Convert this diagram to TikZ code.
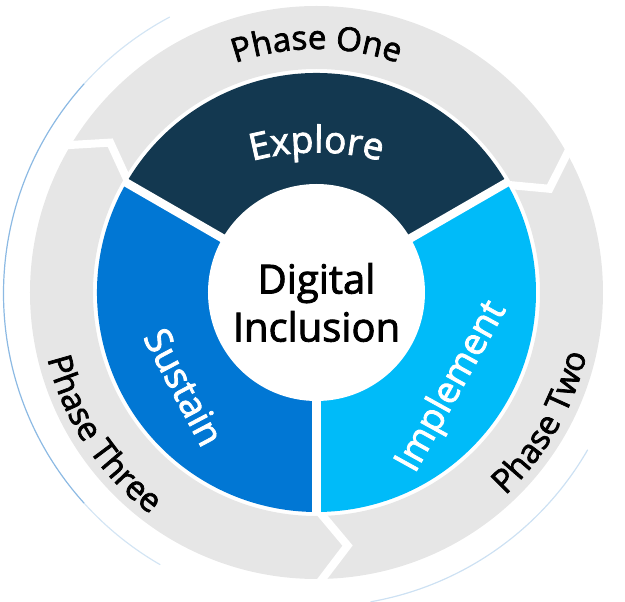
\documentclass[tikz,border=0pt]{standalone}
\usepackage{fontspec}
\setmainfont{Open Sans}[FakeBold=2.2]
\usetikzlibrary{decorations.text}

\definecolor{exploreC}{HTML}{133850}
\definecolor{sustainC}{HTML}{0177D4}
\definecolor{implementC}{HTML}{00BBF9}
\definecolor{ringC}{HTML}{E6E6E6}
\definecolor{glowC}{HTML}{6FA8DC}

\tikzset{
  cutline/.style={draw=white, line width=8pt, line join=miter, miter limit=10},
  gapline/.style={draw=white, line width=8.5pt},
  glowline/.style={draw=glowC, line width=1.2pt, line cap=round},
  sectorlabel/.style={white, font=\fontsize{37}{44}\selectfont, inner sep=0pt,
    text height=26pt, text depth=0pt},
  centerlabel/.style={black, font=\fontsize{40}{48}\selectfont, inner sep=0pt, anchor=base}
}
\newcommand{\phasefont}{\fontsize{33}{40}\selectfont}

\begin{document}
\begin{tikzpicture}[x=1pt,y=1pt]
\useasboundingbox (-316.5,-309.5) rectangle (308.5,292.5);

% faint rim of the backing disc
\draw[glowline, opacity=0.8] (0,-1) ++(138:313pt) arc[start angle=138, end angle=222, radius=313pt];
\draw[glowline, opacity=0.3] (0,-1) ++(118:313pt) arc[start angle=118, end angle=138, radius=313pt];
\draw[glowline, opacity=0.3] (0,-1) ++(222:313pt) arc[start angle=222, end angle=240, radius=313pt];
\draw[glowline, opacity=0.35] (0,-1) ++(280:313pt) arc[start angle=280, end angle=330, radius=313pt];

% outer phase ring
\fill[ringC, even odd rule] (0,0) circle[radius=286.5pt] (0,0) circle[radius=223.5pt];

% chevron cuts between the phases
\draw[cutline] (30:216pt) -- (24:255pt) -- (30:294pt);
\draw[cutline] (150:216pt) -- (144:255pt) -- (150:294pt);
\draw[cutline] (270:216pt) -- (277:255pt) -- (270:294pt);

% inner donut sectors
\fill[exploreC] (0,0) -- (30:219.5pt) arc[start angle=30, end angle=150, radius=219.5pt] -- cycle;
\fill[implementC] (0,0) -- (-90:219.5pt) arc[start angle=-90, end angle=30, radius=219.5pt] -- cycle;
\fill[sustainC] (0,0) -- (150:219.5pt) arc[start angle=150, end angle=270, radius=219.5pt] -- cycle;
\draw[gapline] (0,0) -- (30:222pt);
\draw[gapline] (0,0) -- (150:222pt);
\draw[gapline] (0,0) -- (270:222pt);

% hub
\fill[white] (0,0) circle[radius=108.5pt];
\node[centerlabel] (digital) at (0,-1) {Digital};
\node[centerlabel] (inclusion) at (0,-49) {Inclusion};

% sector labels
\path[decorate, decoration={text along path, text align=center, text color=white,
  text={|\fontsize{37}{44}\selectfont|Explore}}, shift={(0,-110pt)}]
  (120:250pt) arc[start angle=120, end angle=60, radius=250pt];
\node[sectorlabel, rotate=-62] (sustain) at (215.5:163pt) {Sustain};
\node[sectorlabel, rotate=61] (implement) at (-35:162pt) {Implement};

% phase labels
\path[decorate, decoration={text along path, text align=center,
  text={|\phasefont|Phase One}}]
  (125:243.5pt) arc[start angle=125, end angle=55, radius=243.5pt];
\path[decorate, decoration={text along path, text align=center,
  text={|\phasefont|Phase Two}}]
  (-70:277pt) arc[start angle=-70, end angle=10, radius=277pt];
\path[decorate, decoration={text along path, text align=center,
  text={|\phasefont|Phase Three}}]
  (173:277pt) arc[start angle=173, end angle=254, radius=277pt];
\end{tikzpicture}
\end{document}
